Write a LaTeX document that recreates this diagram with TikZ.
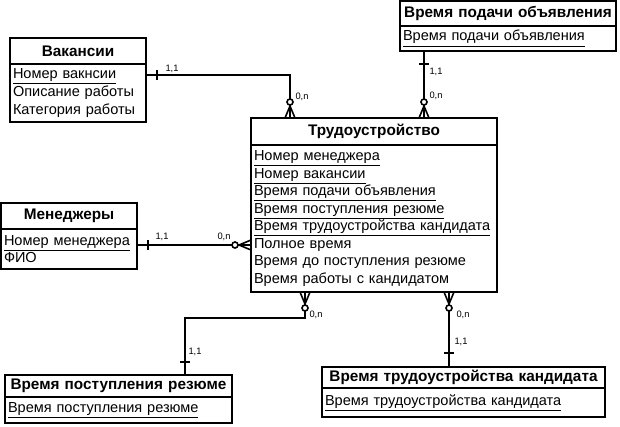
\documentclass[tikz,border=0pt]{standalone}
\usepackage{fontspec}
\setmainfont{Liberation Sans}
\usetikzlibrary{positioning,calc}

\tikzset{
  ent/.style={draw, line width=1.4pt, outer sep=0pt, inner sep=0pt, align=center, font=\bfseries\fontsize{11.5}{13}\selectfont},
  attr/.style={draw, line width=1.4pt, outer sep=0pt, inner xsep=2.25pt, inner ysep=0.5pt, align=left, font=\fontsize{10.9}{13.1}\selectfont},
  rel/.style={line width=1.4pt},
  card/.style={inner sep=0pt, font=\fontsize{7}{8}\selectfont},
  one/.pic={\draw[line width=1.4pt] (0,-5) -- (0,5);},
  crow/.pic={\draw[line width=1.2pt] (-12,0) -- (0,-5) (-12,0) -- (0,0) (-12,0) -- (0,5);
             \draw[line width=1.2pt, fill=white] (-16,0) circle (2.25pt);},
}

\begin{document}
\begin{tikzpicture}[x=0.75pt, y=-0.75pt]
	\useasboundingbox (0,0) rectangle (620,426);
	%\draw[help lines] (0,0) grid[step=50] (620,426);

	% entities
	\node[ent, anchor=north west, text width=102pt, minimum height=19.5pt] (vac) at (10,38) {Вакансии};
	\node[attr, below=0pt of vac, text width=97.5pt, minimum height=43.5pt, font=\fontsize{10.9}{13.5}\selectfont] (vac-a) {\underline{Номер вакнсии}\\Описание работы\\Категория работы};

	\node[ent, anchor=north west, text width=162pt, minimum height=18.75pt] (ad) at (400,1) {Время подачи объявления};
	\node[attr, below=0pt of ad, text width=157.5pt, minimum height=18.75pt] (ad-a) {\underline{Время подачи объявления}};

	\node[ent, anchor=north west, text width=184.5pt, minimum height=20.25pt] (emp) at (251,118) {Трудоустройство};
	\node[attr, below=0pt of emp, text width=180pt, minimum height=110.25pt] (emp-a) {\underline{Номер менеджера}\\\underline{Номер вакансии}\\\underline{Время подачи объявления}\\\underline{Время поступления резюме}\\\underline{Время трудоустройства кандидата}\\Полное время\\Время до поступления резюме\\Время работы с кандидатом};

	\node[ent, anchor=north west, text width=102pt, minimum height=19.5pt] (mgr) at (1,203) {Менеджеры};
	\node[attr, below=0pt of mgr, text width=97.5pt, minimum height=30pt] (mgr-a) {\underline{Номер менеджера}\\ФИО};

	\node[ent, anchor=north west, text width=170.25pt, minimum height=16.5pt] (res) at (5,375) {Время поступления резюме};
	\node[attr, below=0pt of res, text width=165.75pt, minimum height=19.5pt] (res-a) {\underline{Время поступления резюме}};

	\node[ent, anchor=north west, text width=212.25pt, minimum height=15.75pt] (hire) at (322,367) {Время трудоустройства кандидата};
	\node[attr, below=0pt of hire, text width=207.75pt, minimum height=21.75pt] (hire-a) {\underline{Время трудоустройства кандидата}};

	% Вакансии -- Трудоустройство
	\coordinate (vac-e) at ($(vac-a.north east)+(0,11)$);
	\coordinate (emp-n1) at ($(emp.north west)+(39,0)$);
	\draw[rel] (vac-e) -| (emp-n1);
	\pic at ($(vac-e)+(11,0)$) {one};
	\pic[rotate=-90] at (emp-n1) {crow};
	\node[card] (vac-c1) at (172,69) {1,1};
	\node[card] (vac-c2) at (302,97) {0,n};

	% Время подачи объявления -- Трудоустройство
	\coordinate (ad-s) at ($(ad-a.south west)+(24,0)$);
	\coordinate (emp-n2) at (ad-s |- emp.north);
	\draw[rel] (ad-s) -- (emp-n2);
	\pic[rotate=90] at ($(ad-s)+(0,13)$) {one};
	\pic[rotate=-90] at (emp-n2) {crow};
	\node[card] (ad-c1) at (436,72) {1,1};
	\node[card] (ad-c2) at (436,96) {0,n};

	% Менеджеры -- Трудоустройство
	\coordinate (mgr-e) at ($(mgr-a.north east)+(0,16)$);
	\coordinate (emp-w) at (mgr-e -| emp-a.west);
	\draw[rel] (mgr-e) -- (emp-w);
	\pic at ($(mgr-e)+(11,0)$) {one};
	\pic at (emp-w) {crow};
	\node[card] (mgr-c1) at (162,237) {1,1};
	\node[card] (mgr-c2) at (224,237) {0,n};

	% Время поступления резюме -- Трудоустройство
	\coordinate (emp-s1) at ($(emp-a.south west)+(54,0)$);
	\coordinate (res-n) at ($(res.north west)+(180,0)$);
	\draw[rel] (emp-s1) -- ++(0,26) -| (res-n);
	\pic[rotate=90] at ($(res-n)+(0,-13)$) {one};
	\pic[rotate=90] at (emp-s1) {crow};
	\node[card] (res-c1) at (195,352) {1,1};
	\node[card] (res-c2) at (316,315) {0,n};

	% Время трудоустройства кандидата -- Трудоустройство
	\coordinate (emp-s2) at ($(emp-a.south west)+(198,0)$);
	\coordinate (hire-n) at (emp-s2 |- hire.north);
	\draw[rel] (emp-s2) -- (hire-n);
	\pic[rotate=90] at ($(hire-n)+(0,-14)$) {one};
	\pic[rotate=90] at (emp-s2) {crow};
	\node[card] (hire-c1) at (461,342) {1,1};
	\node[card] (hire-c2) at (463,315) {0,n};
\end{tikzpicture}
\end{document}
